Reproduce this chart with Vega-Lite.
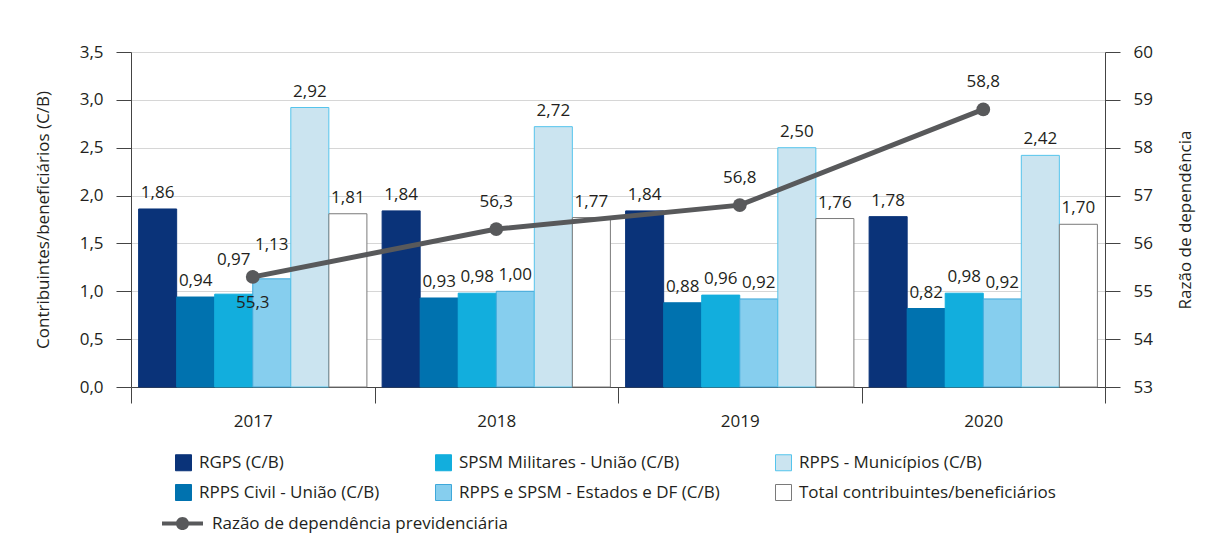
{
  "$schema": "https://vega.github.io/schema/vega-lite/v6.json",
  "autosize": {"type": "none"},
  "width": 974,
  "height": 335,
  "padding": {"left": 131, "top": 52, "right": 104, "bottom": 168},
  "background": "white",
  "datasets": {
    "barras": [
      {"ano": "2017", "serie": "RGPS (C/B)", "valor": 1.86},
      {"ano": "2017", "serie": "RPPS Civil - União (C/B)", "valor": 0.94},
      {"ano": "2017", "serie": "SPSM Militares - União (C/B)", "valor": 0.97},
      {"ano": "2017", "serie": "RPPS e SPSM - Estados e DF (C/B)", "valor": 1.13},
      {"ano": "2017", "serie": "RPPS - Municípios (C/B)", "valor": 2.92},
      {"ano": "2017", "serie": "Total contribuintes/beneficiários", "valor": 1.81},
      {"ano": "2018", "serie": "RGPS (C/B)", "valor": 1.84},
      {"ano": "2018", "serie": "RPPS Civil - União (C/B)", "valor": 0.93},
      {"ano": "2018", "serie": "SPSM Militares - União (C/B)", "valor": 0.98},
      {"ano": "2018", "serie": "RPPS e SPSM - Estados e DF (C/B)", "valor": 1.00},
      {"ano": "2018", "serie": "RPPS - Municípios (C/B)", "valor": 2.72},
      {"ano": "2018", "serie": "Total contribuintes/beneficiários", "valor": 1.77},
      {"ano": "2019", "serie": "RGPS (C/B)", "valor": 1.84},
      {"ano": "2019", "serie": "RPPS Civil - União (C/B)", "valor": 0.88},
      {"ano": "2019", "serie": "SPSM Militares - União (C/B)", "valor": 0.96},
      {"ano": "2019", "serie": "RPPS e SPSM - Estados e DF (C/B)", "valor": 0.92},
      {"ano": "2019", "serie": "RPPS - Municípios (C/B)", "valor": 2.50},
      {"ano": "2019", "serie": "Total contribuintes/beneficiários", "valor": 1.76},
      {"ano": "2020", "serie": "RGPS (C/B)", "valor": 1.78},
      {"ano": "2020", "serie": "RPPS Civil - União (C/B)", "valor": 0.82},
      {"ano": "2020", "serie": "SPSM Militares - União (C/B)", "valor": 0.98},
      {"ano": "2020", "serie": "RPPS e SPSM - Estados e DF (C/B)", "valor": 0.92},
      {"ano": "2020", "serie": "RPPS - Municípios (C/B)", "valor": 2.42},
      {"ano": "2020", "serie": "Total contribuintes/beneficiários", "valor": 1.70}
    ],
    "razao": [
      {"ano": "2017", "razao": 55.3},
      {"ano": "2018", "razao": 56.3},
      {"ano": "2019", "razao": 56.8},
      {"ano": "2020", "razao": 58.8}
    ]
  },
  "encoding": {
    "x": {
      "field": "ano", "type": "nominal",
      "scale": {"paddingInner": 0, "paddingOuter": 0},
      "axis": {
        "title": null, "labelAngle": 0, "tickBand": "extent", "tickSize": 16,
        "labelPadding": 10, "domainColor": "#444", "tickColor": "#444",
        "labelFontSize": 17, "grid": false
      }
    }
  },
  "layer": [
    {
      "data": {"name": "barras"},
      "encoding": {
        "y": {
          "field": "valor", "type": "quantitative",
          "scale": {"domain": [0, 3.5], "nice": false, "zero": true},
          "axis": {
            "title": "Contribuintes/beneficiários (C/B)",
            "values": [0, 0.5, 1, 1.5, 2, 2.5, 3, 3.5],
            "format": ".1f", "tickSize": 15, "labelPadding": 13,
            "titlePadding": 27, "grid": true, "gridColor": "#d6d6d6",
            "domainColor": "#444", "tickColor": "#444",
            "labelFontSize": 17, "titleFontSize": 17, "titleFontWeight": "normal"
          }
        },
        "xOffset": {
          "field": "serie", "type": "nominal",
          "sort": ["RGPS (C/B)", "RPPS Civil - União (C/B)", "SPSM Militares - União (C/B)", "RPPS e SPSM - Estados e DF (C/B)", "RPPS - Municípios (C/B)", "Total contribuintes/beneficiários"],
          "scale": {"paddingInner": 0, "paddingOuter": 0.2}
        }
      },
      "layer": [
        {
          "mark": {"type": "bar", "strokeWidth": 1},
          "encoding": {
            "fill": {
              "field": "serie", "type": "nominal",
              "scale": {
                "domain": ["RGPS (C/B)", "SPSM Militares - União (C/B)", "RPPS - Municípios (C/B)", "RPPS Civil - União (C/B)", "RPPS e SPSM - Estados e DF (C/B)", "Total contribuintes/beneficiários"],
                "range": ["#0a3379", "#12aedd", "#cbe4f0", "#0072af", "#86ceee", "#ffffff"]
              },
              "legend": {
                "title": null, "orient": "none", "legendX": 44, "legendY": 402,
                "direction": "horizontal", "columns": 3, "columnPadding": 53, "rowPadding": 9,
                "symbolType": "square", "symbolSize": 256, "symbolStrokeWidth": 1,
                "labelFontSize": 17, "labelOffset": 7, "labelLimit": 400, "padding": 0
              }
            },
            "stroke": {
              "field": "serie", "type": "nominal",
              "scale": {
                "domain": ["RGPS (C/B)", "SPSM Militares - União (C/B)", "RPPS - Municípios (C/B)", "RPPS Civil - União (C/B)", "RPPS e SPSM - Estados e DF (C/B)", "Total contribuintes/beneficiários"],
                "range": ["#0a3379", "#12aedd", "#55c4ec", "#0072af", "#3ea8da", "#7a7a7a"]
              },
              "legend": {
                "title": null, "orient": "none", "legendX": 44, "legendY": 402,
                "direction": "horizontal", "columns": 3, "columnPadding": 53, "rowPadding": 9,
                "symbolType": "square", "symbolSize": 256, "symbolStrokeWidth": 1,
                "labelFontSize": 17, "labelOffset": 7, "labelLimit": 400, "padding": 0
              }
            }
          }
        },
        {
          "transform": [{"filter": "!(datum.ano == '2017' && (datum.serie == 'SPSM Militares - União (C/B)' || datum.serie == 'RPPS e SPSM - Estados e DF (C/B)'))"}],
          "mark": {"type": "text", "baseline": "middle", "dy": -16, "fontSize": 17, "color": "#231f20"},
          "encoding": {"text": {"field": "valor", "type": "quantitative", "format": ".2f"}}
        },
        {
          "transform": [{"filter": "datum.ano == '2017' && (datum.serie == 'SPSM Militares - União (C/B)' || datum.serie == 'RPPS e SPSM - Estados e DF (C/B)')"}],
          "mark": {"type": "text", "baseline": "middle", "dy": -34, "fontSize": 17, "color": "#231f20"},
          "encoding": {"text": {"field": "valor", "type": "quantitative", "format": ".2f"}}
        }
      ]
    },
    {
      "data": {"name": "razao"},
      "encoding": {
        "y": {
          "field": "razao", "type": "quantitative",
          "scale": {"domain": [53, 60], "nice": false, "zero": false},
          "axis": {
            "orient": "right", "title": "Razão de dependência",
            "values": [53, 54, 55, 56, 57, 58, 59, 60], "format": "d",
            "tickSize": 15, "labelPadding": 13, "titlePadding": 42, "titleAngle": 270,
            "grid": false, "domainColor": "#444", "tickColor": "#444",
            "labelFontSize": 17, "titleFontSize": 17, "titleFontWeight": "normal"
          }
        }
      },
      "layer": [
        {
          "mark": {"type": "line", "strokeWidth": 5, "color": "#58595b"}
        },
        {
          "mark": {"type": "point", "filled": true, "size": 190, "opacity": 1, "shape": "circle"},
          "encoding": {
            "color": {
              "datum": "Razão de dependência previdenciária", "type": "nominal",
              "scale": {"range": ["#58595b"]},
              "legend": {
                "title": null, "orient": "none", "legendX": 31, "legendY": 451,
                "symbolType": "M-1,-0.1H1V0.1H-1Z M-0.32,0A0.32,0.32 0 1,1 0.32,0A0.32,0.32 0 1,1 -0.32,0Z",
                "symbolSize": 1681, "symbolStrokeWidth": 0, "symbolOpacity": 1,
                "labelFontSize": 17, "labelOffset": 9, "labelLimit": 400, "padding": 0
              }
            }
          }
        },
        {
          "transform": [{"filter": "datum.ano == '2017'"}],
          "mark": {"type": "text", "baseline": "middle", "dy": 26, "fontSize": 17, "color": "#231f20"},
          "encoding": {"text": {"field": "razao", "type": "quantitative", "format": ".1f"}}
        },
        {
          "transform": [{"filter": "datum.ano != '2017'"}],
          "mark": {"type": "text", "baseline": "middle", "dy": -27, "fontSize": 17, "color": "#231f20"},
          "encoding": {"text": {"field": "razao", "type": "quantitative", "format": ".1f"}}
        }
      ]
    }
  ],
  "resolve": {"scale": {"y": "independent"}},
  "config": {
    "locale": {"number": {"decimal": ",", "thousands": ".", "grouping": [3], "currency": ["R$", ""]}},
    "font": "Open Sans",
    "view": {"stroke": null},
    "axis": {"labelColor": "#231f20", "titleColor": "#231f20", "labelFont": "Open Sans", "titleFont": "Open Sans"},
    "legend": {"labelColor": "#231f20", "labelFont": "Open Sans"},
    "text": {"font": "Open Sans"}
  }
}
